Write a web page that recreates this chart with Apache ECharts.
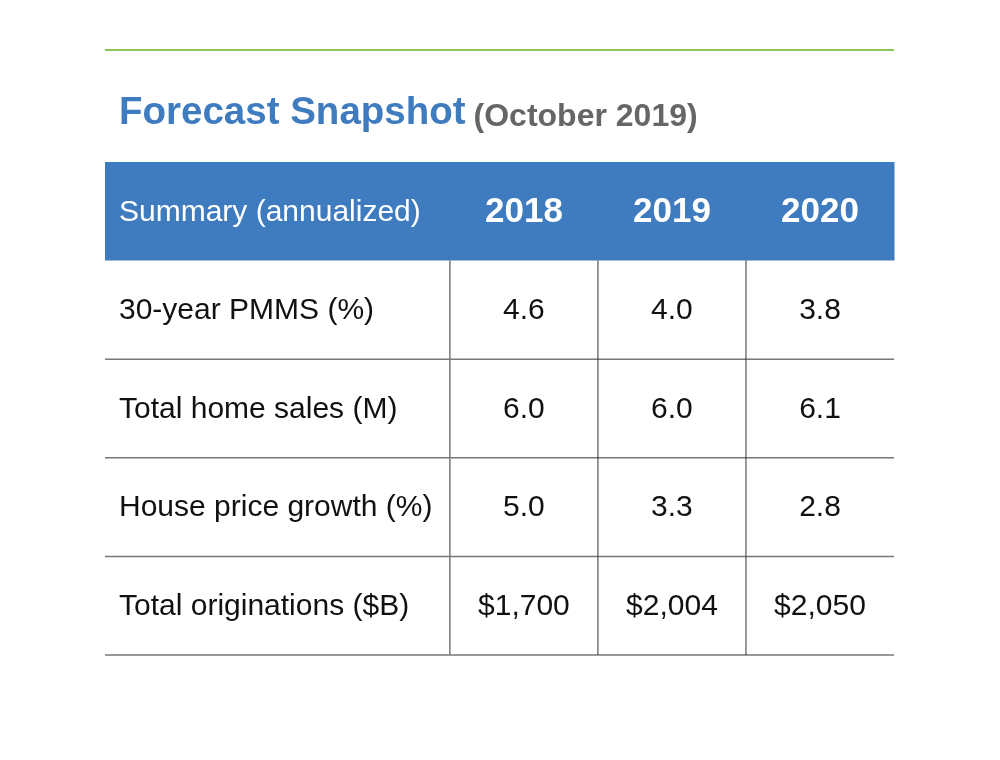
<!DOCTYPE html>
<html>
<head>
<meta charset="utf-8">
<script src="https://cdn.jsdelivr.net/npm/echarts@6/dist/echarts.min.js"></script>
<style>
  html, body { margin: 0; padding: 0; background: #fff; }
  #main { width: 1000px; height: 760px; }
</style>
</head>
<body>
<div id="main"></div>
<script>
// table content
const headerLabel = 'Summary (annualized)';
const years = ['2018', '2019', '2020'];
const rowLabels = ['30-year PMMS (%)', 'Total home sales (M)', 'House price growth (%)', 'Total originations ($B)'];
const pmms = [4.6, 4.0, 3.8];
const homeSales = [6.0, 6.0, 6.1];
const priceGrowth = [5.0, 3.3, 2.8];
const originations = [1700, 2004, 2050];

const fmt1 = v => v.toFixed(1);
const fmtUsd = v => '$' + v.toLocaleString('en-US');
const rowValues = [pmms.map(fmt1), homeSales.map(fmt1), priceGrowth.map(fmt1), originations.map(fmtUsd)];

// first column is wider than the year columns
const LABEL_SPAN = 2.33;
const FONT = 'Liberation Sans';
const BLUE = '#3f7bbf';

const cells = [];
cells.push({ row: 0, col: 0, x0: 0, x1: LABEL_SPAN, text: headerLabel });
years.forEach((y, i) => {
  cells.push({ row: 0, col: i + 1, x0: LABEL_SPAN + i, x1: LABEL_SPAN + i + 1, text: y });
});
rowLabels.forEach((lab, r) => {
  cells.push({ row: r + 1, col: 0, x0: 0, x1: LABEL_SPAN, text: lab });
  rowValues[r].forEach((v, i) => {
    cells.push({ row: r + 1, col: i + 1, x0: LABEL_SPAN + i, x1: LABEL_SPAN + i + 1, text: v });
  });
});

function renderCell(params, api) {
  const c = cells[params.dataIndex];
  const a = api.coord([c.x0, c.row]);
  const b = api.coord([c.x1, c.row]);
  const h = api.size([0, 1])[1];
  const top = a[1] - h / 2;
  const bottom = a[1] + h / 2;
  const w = b[0] - a[0];
  const children = [];
  const head = c.row === 0;

  if (head) {
    children.push({
      type: 'rect',
      shape: { x: a[0], y: top, width: w + 0.5, height: h },
      style: { fill: BLUE }
    });
  } else {
    children.push({
      type: 'line',
      shape: { x1: a[0], y1: bottom, x2: b[0], y2: bottom },
      style: { stroke: '#777', lineWidth: 1.5 }
    });
    if (c.col > 0) {
      children.push({
        type: 'line',
        shape: { x1: a[0], y1: top, x2: a[0], y2: bottom },
        style: { stroke: c.col === 1 ? '#777' : '#333', lineWidth: c.col === 1 ? 1.5 : 1 }
      });
    }
  }

  const isLabel = c.col === 0;
  const bigHead = head && !isLabel;
  children.push({
    type: 'text',
    x: isLabel ? a[0] + 14 : (a[0] + b[0]) / 2,
    y: a[1] + 1,
    style: {
      text: c.text,
      fill: head ? '#fff' : '#111',
      fontFamily: FONT,
      fontSize: bigHead ? 35 : 30,
      fontWeight: bigHead ? 'bold' : 'normal',
      align: isLabel ? 'left' : 'center',
      verticalAlign: 'middle'
    }
  });

  return { type: 'group', children: children };
}

const chart = echarts.init(document.getElementById('main'), null, { renderer: 'canvas' });
chart.setOption({
  backgroundColor: '#fff',
  animation: false,
  title: {
    left: 114,
    top: 80,
    text: '{a|Forecast Snapshot} {b|(October 2019)}',
    textStyle: {
      rich: {
        a: { fontFamily: FONT, fontWeight: 'bold', fontSize: 38.5, color: BLUE, lineHeight: 48, verticalAlign: 'bottom' },
        b: { fontFamily: FONT, fontWeight: 'bold', fontSize: 32, color: '#666', lineHeight: 48, verticalAlign: 'bottom', padding: [0, 0, 0, 3] }
      }
    }
  },
  graphic: [{
    type: 'line',
    shape: { x1: 105, y1: 50, x2: 894, y2: 50 },
    style: { stroke: '#8dc35b', lineWidth: 2 }
  }],
  grid: { left: 105, right: 106, top: 162, bottom: 105 },
  xAxis: { type: 'value', min: 0, max: LABEL_SPAN + years.length, show: false },
  yAxis: { type: 'category', data: ['header'].concat(rowLabels), inverse: true, show: false },
  series: [{
    type: 'custom',
    clip: false,
    renderItem: renderCell,
    data: cells.map(c => [c.x0, c.x1, c.row])
  }]
});
</script>
</body>
</html>
